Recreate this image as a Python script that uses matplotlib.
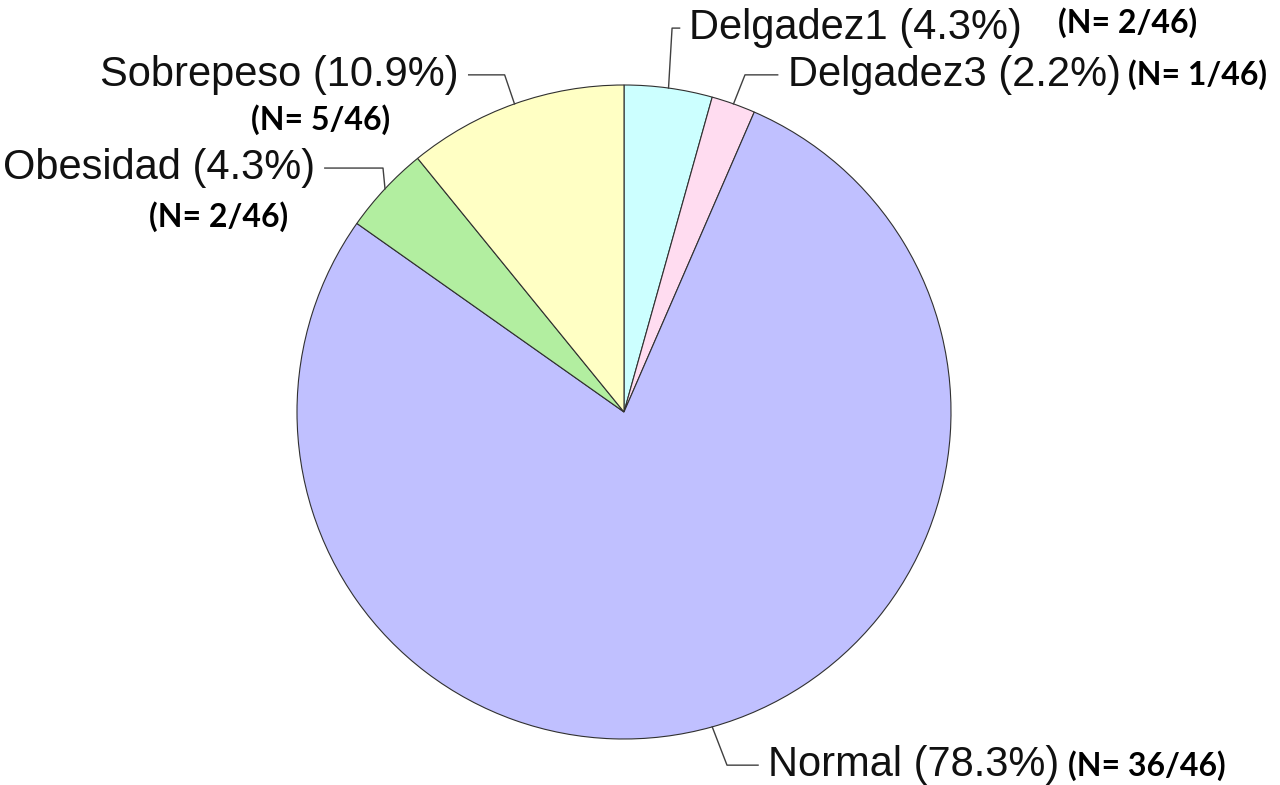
import numpy as np
import matplotlib
matplotlib.use('Agg')
import matplotlib.pyplot as plt

categorias = ['Delgadez1', 'Delgadez3', 'Normal', 'Obesidad', 'Sobrepeso']
conteos = [2, 1, 36, 2, 5]
total = 46
colores = ['#CCFFFF', '#FFDCF0', '#C0C0FF', '#B2EEA0', '#FFFFC4']

# posiciones de etiquetas (coordenadas del eje, radio = 1)
# (codo x, codo y, texto x, alineacion, n_x, n_y, n_alineacion)
layout = {
    'Delgadez1': (0.147, 1.174, 0.20, 'left', 1.328, 1.19, 'left'),
    'Delgadez3': (0.370, 1.031, 0.50, 'left', 1.540, 1.031, 'left'),
    'Normal':    (0.315, -1.080, 0.44, 'left', 1.357, -1.080, 'left'),
    'Obesidad':  (-0.737, 0.746, -0.945, 'right', -1.24, 0.596, 'center'),
    'Sobrepeso': (-0.365, 1.031, -0.505, 'right', -0.928, 0.893, 'center'),
}

fig = plt.figure(figsize=(12.8, 7.85), dpi=100)
ax = fig.add_axes([297 / 1280, 46 / 785, 654 / 1280, 654 / 785])

wedges, _ = ax.pie(conteos, colors=colores, startangle=90, counterclock=False,
                   radius=1, wedgeprops=dict(edgecolor='#303030', linewidth=0.8))
ax.set_xlim(-1, 1)
ax.set_ylim(-1, 1)
ax.set_aspect('equal')
ax.axis('off')

for w, cat, n in zip(wedges, categorias, conteos):
    ang = np.deg2rad((w.theta1 + w.theta2) / 2)
    px, py = np.cos(ang), np.sin(ang)
    ex, ey, tx, ha, nx, ny, nha = layout[cat]
    lx = tx - 0.03 if ha == 'left' else tx + 0.03
    ax.plot([px, ex, lx], [py, ey, ey], color='#404040', lw=1, clip_on=False)
    pct = 100 * n / total
    ax.text(tx, ey, f'{cat} ({pct:.1f}%)', ha=ha, va='center', fontsize=30,
            family='Liberation Sans', color='#111111', clip_on=False)
    ax.text(nx, ny, f'(N= {n}/{total})', ha=nha, va='center', fontsize=23,
            fontweight='bold', family='Lato', color='black', clip_on=False)

fig.savefig('out.png', dpi=100, facecolor='white')
